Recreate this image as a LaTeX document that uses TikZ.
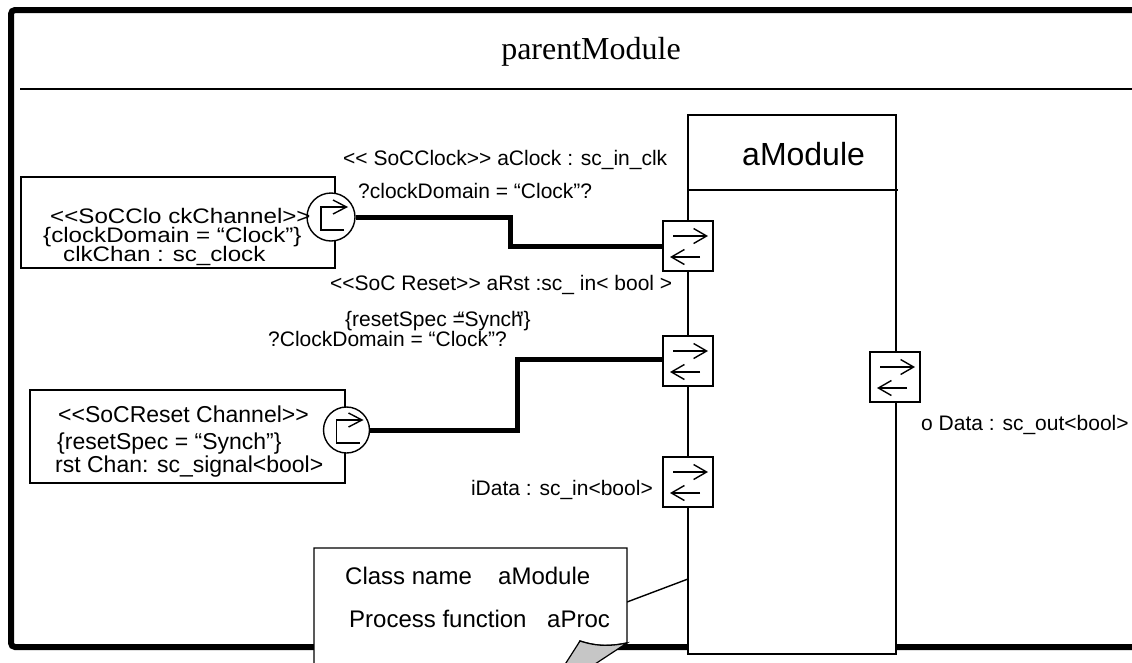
\documentclass[tikz,border=0pt]{standalone}
\usepackage{fontspec}
\setmainfont{Liberation Sans}[Ligatures=TeXOff]
\newfontfamily\serifface{Liberation Serif}
\newfontfamily\wideface{Liberation Sans}[Ligatures=TeXOff,FakeStretch=1.15]
\usetikzlibrary{arrows.meta,calc}
\newcommand\portsym[1]{%
  \draw[parr] ([xshift=-15pt,yshift=10pt]#1.center) -- ([xshift=20pt,yshift=10pt]#1.center);
  \draw[parr] ([xshift=12pt,yshift=-11pt]#1.center) -- ([xshift=-18pt,yshift=-11pt]#1.center);}
\newcommand\chansym[1]{%
  \draw[thinline] ([xshift=13pt,yshift=-13pt]#1.center) -- ([xshift=-10pt,yshift=-13pt]#1.center)
     -- ([xshift=-10pt,yshift=10pt]#1.center) -- ([xshift=15pt,yshift=10pt]#1.center);
  \draw[thinline] ([xshift=2pt,yshift=17pt]#1.center) -- ([xshift=15.5pt,yshift=10pt]#1.center)
     -- ([xshift=2pt,yshift=3pt]#1.center);}
\newcommand\lt{\char"003C\relax}
\newcommand\gt{\char"003E\relax}
\begin{document}
\begin{tikzpicture}[x=1pt,y=-1pt,
  thinline/.style={line width=1.4pt},
  chanbox/.style={draw,line width=1.4pt,fill=white,inner sep=0pt},
  chancirc/.style={circle,draw,line width=1.4pt,fill=white,inner sep=0pt},
  portbox/.style={draw,line width=1.4pt,fill=white,minimum width=50pt,minimum height=50pt,inner sep=0pt},
  parr/.style={line width=1.4pt,-{Straight Barb[length=13pt,width=15pt,line width=1.4pt]}},
  wire/.style={line width=5pt},
  lbl/.style={font=\fontsize{21}{25}\selectfont,inner sep=0pt},
  boxtxt/.style={font=\fontsize{23}{27}\selectfont,inner sep=0pt},
  widetxt/.style={font=\wideface\fontsize{21}{25}\selectfont,inner sep=0pt},
  notetxt/.style={font=\fontsize{24}{28}\selectfont,inner sep=0pt}]
\useasboundingbox (0,0) rectangle (1132,662);
\clip (0,0) rectangle (1132,662);
\fill[white] (0,0) rectangle (1132,662);
% frame
\draw[line width=6pt,rounded corners=4pt] (1145,10) -- (11,10) -- (11,647) -- (1145,647);
\draw[line width=1.8pt] (20,89) -- (1140,89);
\node[font=\serifface\fontsize{32}{36}\selectfont,inner sep=0pt,anchor=base] (title) at (591,59) {parentModule};
% module
\node[draw,line width=1.4pt,fill=white,minimum width=208pt,minimum height=539pt,inner sep=0pt] (mod) at (792,384.5) {};
\coordinate (hl) at (898,190);
\draw[thinline] (hl -| mod.west) -- (hl);
\node[font=\fontsize{32}{36}\selectfont,inner sep=0pt,anchor=base west] (modname) at (742,165) {aModule};
% ports
\node[portbox] (p1) at (688,246) {};
\node[portbox] (p2) at (688,361) {};
\node[portbox] (p3) at (688,482) {};
\node[portbox] (p4) at (895,377) {};
\portsym{p1}\portsym{p2}\portsym{p3}\portsym{p4}
% channels
\node[chanbox,minimum width=314pt,minimum height=91pt] (b1) at (178,222.5) {};
\node[chanbox,minimum width=315pt,minimum height=93pt] (b2) at (187.5,436.5) {};
\node[chancirc,minimum size=48pt] (c1) at (331,217) {};
\node[chancirc,minimum size=46pt] (c2) at (346.5,430) {};
\chansym{c1}\chansym{c2}
% wires
\coordinate (j1) at (510,232);
\draw[wire] (c1.east) -| (j1) |- (p1.west);
\coordinate (j2) at (517,400);
\draw[wire] (c2.east) -| (j2) |- ([yshift=2pt]p2.west);
% channel texts
\node[widetxt,anchor=base west] (b1a) at (50,223) {\lt\lt SoCClo ckChannel\gt\gt};
\node[widetxt,anchor=base west] (b1b) at (43,242) {\{clockDomain = “Clock”\}};
\node[widetxt,anchor=base west] (b1c) at (63,261) {clkChan : sc\_clock};
\node[boxtxt,anchor=base west] (b2a) at (58,422) {\lt\lt SoCReset Channel\gt\gt};
\node[boxtxt,anchor=base west] (b2b) at (57,449) {\{resetSpec = “Synch”\}};
\node[boxtxt,anchor=base west] (b2c) at (55,472) {rst Chan: sc\_signal\lt bool\gt};
% port labels
\node[lbl,anchor=base west] (t1) at (343,165) {\lt\lt{} SoCClock\gt\gt{} aClock : sc\_in\_clk};
\node[lbl,anchor=base west] (t2) at (358,198) {?clockDomain = “Clock”?};
\node[lbl,anchor=base west] (t3) at (330,290) {\lt\lt SoC Reset\gt\gt{} aRst :sc\_ in\lt{} bool \gt};
\node[lbl,anchor=base west] (t4) at (345,326) {\{resetSpec =\kern-.35em“Synch\kern-.3em”\}};
\node[lbl,anchor=base west] (t5) at (268,346) {?ClockDomain = “Clock”?};
\node[lbl,anchor=base east] (t6) at (653,495) {iData : sc\_in\lt bool\gt};
\node[lbl,anchor=base west] (t7) at (921,430) {o Data : sc\_out\lt bool\gt};
% note
\coordinate (nt) at (627,602);
\coordinate (mt) at (688,579);
\draw[thinline] (nt) -- (mt);
\draw[thinline,fill=white] (314,670) -- (314,548) -- (627,548) -- (627,643)
   .. controls (612,646) and (598,647) .. (580,641) -- (566,670) -- cycle;
\draw[line width=1.2pt,fill=gray!45] (580,641) .. controls (598,647) and (612,646) .. (627,643)
   -- (592,666) -- (564,666) -- cycle;
\node[notetxt,anchor=base west] (n1) at (345,584) {Class name};
\node[notetxt,anchor=base west] (n2) at (498,584) {aModule};
\node[notetxt,anchor=base west] (n3) at (349,627) {Process function};
\node[notetxt,anchor=base west] (n4) at (547,627) {aProc};
\end{tikzpicture}
\end{document}
